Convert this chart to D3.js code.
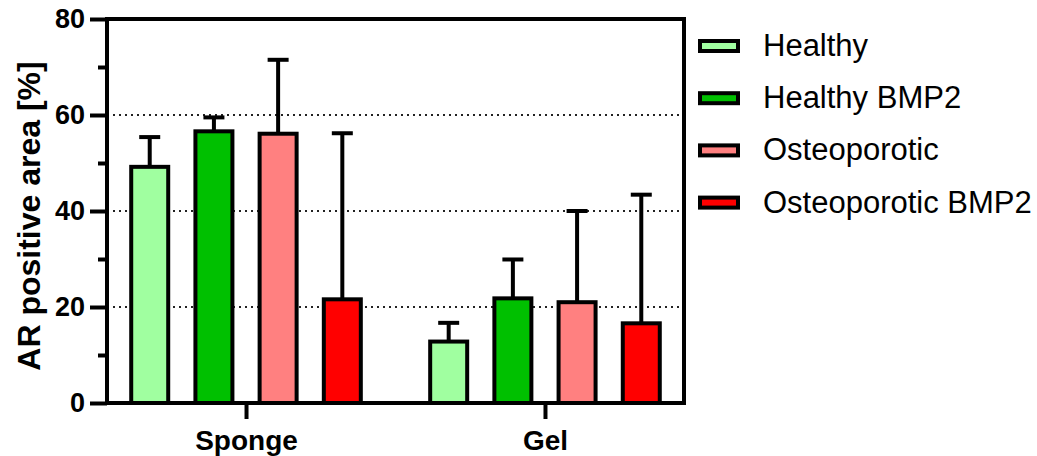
<!DOCTYPE html>
<html>
<head>
<meta charset="utf-8">
<script src="https://cdn.jsdelivr.net/npm/d3@7"></script>
<style>
  body { margin: 0; background: #fff; }
  svg { display: block; font-family: "Liberation Sans", Arial, sans-serif; }
</style>
</head>
<body>
<svg id="chart" width="1037" height="456"></svg>
<script>
// data
var groups = ['Sponge', 'Gel'];
var seriesNames = ['Healthy', 'Healthy BMP2', 'Osteoporotic', 'Osteoporotic BMP2'];
var seriesColors = ['#a0ffa0', '#00c000', '#ff8080', '#ff0000'];
var spongeMeans = [49.2, 56.6, 56.1, 21.6];
var spongeSD = [6.2, 2.9, 15.4, 34.6];
var gelMeans = [12.8, 21.8, 21.0, 16.6];
var gelSD = [3.9, 8.1, 19.0, 26.8];
var yTicks = [0, 20, 40, 60, 80];
var yMinorTicks = [10, 30, 50, 70];
var gridValues = [20, 40, 60];

var means = [spongeMeans, gelMeans];
var sds = [spongeSD, gelSD];

var data = [];
groups.forEach(function(g, gi) {
    seriesNames.forEach(function(s, si) {
        data.push({group: g, series: s, value: means[gi][si], sd: sds[gi][si], color: seriesColors[si]});
    });
});

var svg = d3.select('#chart');
var plot = {l: 107, r: 684, t: 19, b: 403};

var yScale = d3.scaleLinear().domain([0, 80]).range([plot.b, plot.t]);

var x0 = d3.scalePoint().domain(groups).range([plot.l, plot.r]).padding(0.465);
var x1 = d3.scalePoint().domain(seriesNames).range([-96.3, 96.3]);
var barW = 37;
var capW = 21;

// dotted gridlines
svg.append('g')
    .selectAll('line')
    .data(gridValues)
    .enter().append('line')
    .attr('x1', plot.l).attr('x2', plot.r)
    .attr('y1', d => yScale(d)).attr('y2', d => yScale(d))
    .attr('stroke', '#222')
    .attr('stroke-width', 2)
    .attr('stroke-dasharray', '2 4');

// error bars (drawn under bars so they start at the bar top)
var errG = svg.append('g')
    .attr('stroke', '#000')
    .attr('stroke-width', 4);

errG.selectAll('line.v')
    .data(data)
    .enter().append('line')
    .attr('class', 'v')
    .attr('x1', d => x0(d.group) + x1(d.series))
    .attr('x2', d => x0(d.group) + x1(d.series))
    .attr('y1', d => yScale(d.value))
    .attr('y2', d => yScale(d.value + d.sd));

errG.selectAll('line.cap')
    .data(data)
    .enter().append('line')
    .attr('class', 'cap')
    .attr('x1', d => x0(d.group) + x1(d.series) - capW / 2)
    .attr('x2', d => x0(d.group) + x1(d.series) + capW / 2)
    .attr('y1', d => yScale(d.value + d.sd))
    .attr('y2', d => yScale(d.value + d.sd));

// bars
svg.append('g')
    .selectAll('rect')
    .data(data)
    .enter().append('rect')
    .attr('x', d => x0(d.group) + x1(d.series) - barW / 2)
    .attr('y', d => yScale(d.value))
    .attr('width', barW)
    .attr('height', d => yScale(0) - yScale(d.value))
    .attr('fill', d => d.color)
    .attr('stroke', '#000')
    .attr('stroke-width', 4);

// frame: top and right
svg.append('path')
    .attr('d', 'M' + plot.l + ',' + plot.t + 'H' + plot.r + 'V' + plot.b)
    .attr('fill', 'none')
    .attr('stroke', '#000')
    .attr('stroke-width', 4);

// y axis
var yAxis = d3.axisLeft(yScale).tickValues(yTicks).tickSize(17).tickPadding(5);
var yG = svg.append('g')
    .attr('transform', 'translate(' + plot.l + ',0)')
    .call(yAxis);
yG.select('.domain').attr('stroke-width', 4).attr('d', 'M0,' + (plot.t - 2) + 'V' + (plot.b + 2));
yG.selectAll('.tick line').attr('stroke-width', 4);
yG.selectAll('.tick text')
    .attr('font-size', 27)
    .attr('font-weight', 'bold')
    .attr('font-family', '"Liberation Sans", Arial, sans-serif')
    .attr('fill', '#000');

var yMinor = d3.axisLeft(yScale).tickValues(yMinorTicks).tickSize(9).tickFormat('');
var yMG = svg.append('g')
    .attr('transform', 'translate(' + plot.l + ',0)')
    .call(yMinor);
yMG.select('.domain').remove();
yMG.selectAll('.tick line').attr('stroke-width', 4);

// x axis
var xAxis = d3.axisBottom(x0).tickSize(16);
var xG = svg.append('g')
    .attr('transform', 'translate(0,' + plot.b + ')')
    .call(xAxis);
xG.select('.domain').attr('stroke-width', 4).attr('d', 'M' + (plot.l - 2) + ',0H' + (plot.r + 2));
xG.selectAll('.tick line').attr('stroke-width', 4);
xG.selectAll('.tick text')
    .attr('y', 47)
    .attr('dy', 0)
    .attr('font-size', 28)
    .attr('font-weight', 'bold')
    .attr('font-family', '"Liberation Sans", Arial, sans-serif')
    .attr('fill', '#000');

// y axis title
svg.append('text')
    .attr('transform', 'translate(40,' + 216 + ') rotate(-90)')
    .attr('text-anchor', 'middle')
    .attr('font-size', 32)
    .attr('font-weight', 'bold')
    .text('AR positive area [%]');

// legend
var legend = svg.append('g')
    .selectAll('g')
    .data(seriesNames)
    .enter().append('g')
    .attr('transform', (d, i) => 'translate(700,' + (46 + i * 52.2) + ')');

legend.append('rect')
    .attr('x', 0).attr('y', -5)
    .attr('width', 38).attr('height', 10)
    .attr('fill', (d, i) => seriesColors[i])
    .attr('stroke', '#000')
    .attr('stroke-width', 4);

legend.append('text')
    .attr('x', 63)
    .attr('y', 10)
    .attr('font-size', 31)
    .text(d => d);
</script>
</body>
</html>
